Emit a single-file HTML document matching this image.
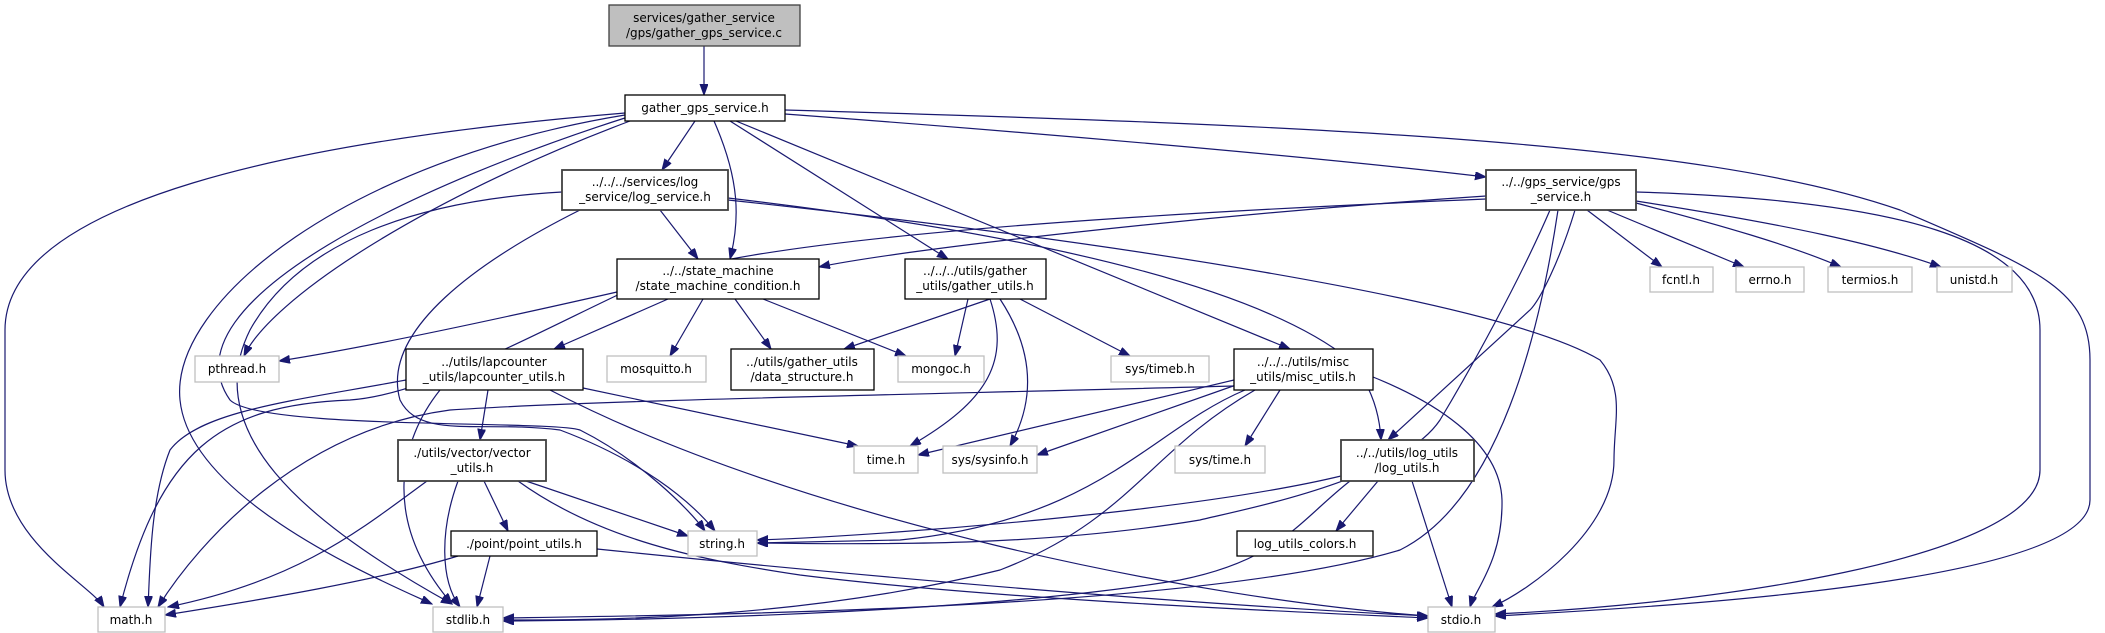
<!DOCTYPE html>
<html><head><meta charset="utf-8"><style>
html,body{margin:0;padding:0;background:#fff;}
svg{display:block;}
text{font-family:"DejaVu Sans","Liberation Sans",sans-serif;font-size:12px;fill:#000;text-anchor:middle;}
.e{fill:none;stroke:#191970;stroke-width:1.2;marker-end:url(#a);}
.b{fill:#fff;stroke:#000;stroke-width:1.3;}
.d{fill:#fff;stroke:#404040;stroke-width:1.8;}
.s{fill:#fff;stroke:#bfbfbf;stroke-width:1.3;}
</style></head><body>
<svg width="2105" height="633" viewBox="0 0 2105 633" xmlns="http://www.w3.org/2000/svg">
<defs><marker id="a" markerUnits="userSpaceOnUse" markerWidth="12" markerHeight="10" refX="11" refY="4" orient="auto"><path d="M0,0 L11,4 L0,8 z" fill="#191970" stroke="#191970"/></marker></defs>

<!-- edges -->
<path class="e" d="M704,46 L704,95"/>
<path class="e" d="M625,113 C300,140 5,200 5,330 L5,470 C5,540 90,585 104,607"/>
<path class="e" d="M625,115 C350,160 170,300 180,400 C190,500 380,580 432,604"/>
<path class="e" d="M628,117 C430,180 160,300 230,400 C260,430 550,420 580,430 C640,460 690,510 705,531"/>
<path class="e" d="M630,121 C420,200 270,300 244,356"/>
<path class="e" d="M695,121 L662,170"/>
<path class="e" d="M714,121 C740,180 740,220 730,259"/>
<path class="e" d="M730,121 L948,259"/>
<path class="e" d="M736,121 L1290,349"/>
<path class="e" d="M785,114 C1000,130 1300,155 1486,177"/>
<path class="e" d="M785,110 C1300,125 1700,140 1900,210 C2040,270 2090,290 2090,360 L2090,500 C2090,580 1700,605 1495,616"/>

<path class="e" d="M660,210 L698,259"/>
<path class="e" d="M562,192 C420,200 300,240 250,330 C200,430 300,520 452,604"/>
<path class="e" d="M580,210 C480,260 380,330 400,400 C420,440 480,420 560,430 C640,460 690,500 715,531"/>
<path class="e" d="M728,198 C1000,230 1250,280 1350,360 C1375,390 1380,420 1381,440"/>
<path class="e" d="M728,200 C1100,240 1500,300 1600,360 C1625,390 1614,420 1614,460 C1614,530 1530,590 1492,607"/>

<path class="e" d="M1486,196 C1200,215 900,250 819,267"/>
<path class="e" d="M1486,199 C1100,215 750,240 650,280 C560,320 430,395 350,400 C220,405 160,450 120,607"/>
<path class="e" d="M1587,210 L1662,267"/>
<path class="e" d="M1607,210 L1744,267"/>
<path class="e" d="M1636,203 C1720,225 1790,245 1841,267"/>
<path class="e" d="M1636,201 C1790,225 1880,245 1941,267"/>
<path class="e" d="M1575,210 C1560,260 1540,300 1530,310 L1388,440"/>
<path class="e" d="M1550,210 C1520,280 1470,370 1440,420 C1400,480 1240,510 1200,520 C1050,545 900,545 757,543"/>
<path class="e" d="M1558,210 C1540,330 1500,500 1400,550 C1200,610 700,615 503,618"/>
<path class="e" d="M1636,192 C1900,200 2040,240 2040,330 L2040,470 C2040,560 1700,605 1495,614"/>

<path class="e" d="M617,292 C450,330 350,350 279,361"/>
<path class="e" d="M668,299 L554,349"/>
<path class="e" d="M703,299 L670,356"/>
<path class="e" d="M735,299 L771,349"/>
<path class="e" d="M763,299 L906,356"/>

<path class="e" d="M990,299 L844,349"/>
<path class="e" d="M968,299 L955,356"/>
<path class="e" d="M990,299 C1010,360 990,400 910,446"/>
<path class="e" d="M1000,299 C1040,360 1030,410 1010,446"/>
<path class="e" d="M1020,299 L1130,356"/>

<path class="e" d="M406,380 C300,400 200,410 170,450 C150,500 150,570 148,607"/>
<path class="e" d="M440,390 C400,440 380,520 452,604"/>
<path class="e" d="M488,390 L480,440"/>
<path class="e" d="M583,388 L858,446"/>
<path class="e" d="M550,390 C800,520 1200,600 1428,616"/>

<path class="e" d="M427,481 C360,530 300,580 168,607"/>
<path class="e" d="M458,481 C440,530 440,580 460,607"/>
<path class="e" d="M484,481 L508,531"/>
<path class="e" d="M526,481 L688,536"/>
<path class="e" d="M518,481 C600,540 700,560 800,575 C1000,600 1300,612 1428,618"/>

<path class="e" d="M458,556 C380,580 260,600 165,615"/>
<path class="e" d="M490,556 L477,607"/>
<path class="e" d="M597,549 C900,580 1200,605 1428,616"/>

<path class="e" d="M1234,386 C900,395 600,400 450,410 C300,430 200,540 158,607"/>
<path class="e" d="M1234,380 L918,455"/>
<path class="e" d="M1236,385 L1037,455"/>
<path class="e" d="M1280,390 L1245,446"/>
<path class="e" d="M1245,390 C1150,430 1100,520 900,540 L757,543"/>
<path class="e" d="M1255,390 C1150,450 1130,520 1000,570 C800,620 600,620 503,620"/>
<path class="e" d="M1373,377 C1430,400 1500,440 1502,500 C1503,560 1475,590 1470,607"/>

<path class="e" d="M1341,476 C1200,510 900,535 757,540"/>
<path class="e" d="M1350,481 C1300,520 1280,560 1180,580 C1000,610 700,620 503,621"/>
<path class="e" d="M1378,481 L1336,531"/>
<path class="e" d="M1412,481 L1452,607"/>

<!-- nodes -->
<rect x="609" y="5" width="191" height="41" fill="#bfbfbf" stroke="#404040" stroke-width="1.3"/>
<text x="704" y="22">services/gather_service</text><text x="704" y="37">/gps/gather_gps_service.c</text>

<rect class="b" x="625" y="95" width="160" height="26"/><text x="705" y="112">gather_gps_service.h</text>
<rect class="d" x="562" y="170" width="166" height="40"/><text x="645" y="186">../../../services/log</text><text x="645" y="201">_service/log_service.h</text>
<rect class="b" x="617" y="259" width="202" height="40"/><text x="718" y="275">../../state_machine</text><text x="718" y="290">/state_machine_condition.h</text>
<rect class="b" x="905" y="259" width="141" height="40"/><text x="975" y="275">../../../utils/gather</text><text x="975" y="290">_utils/gather_utils.h</text>
<rect class="d" x="1486" y="170" width="150" height="40"/><text x="1561" y="186">../../gps_service/gps</text><text x="1561" y="201">_service.h</text>

<rect class="s" x="1650" y="267" width="63" height="25"/><text x="1681" y="284">fcntl.h</text>
<rect class="s" x="1736" y="267" width="68" height="25"/><text x="1770" y="284">errno.h</text>
<rect class="s" x="1828" y="267" width="84" height="25"/><text x="1870" y="284">termios.h</text>
<rect class="s" x="1937" y="267" width="75" height="25"/><text x="1974" y="284">unistd.h</text>

<rect class="s" x="195" y="356" width="84" height="26"/><text x="237" y="373">pthread.h</text>
<rect class="b" x="406" y="349" width="177" height="41"/><text x="494" y="366">../utils/lapcounter</text><text x="494" y="381">_utils/lapcounter_utils.h</text>
<rect class="s" x="607" y="356" width="99" height="26"/><text x="656" y="373">mosquitto.h</text>
<rect class="b" x="731" y="349" width="143" height="41"/><text x="802" y="366">../utils/gather_utils</text><text x="802" y="381">/data_structure.h</text>
<rect class="s" x="898" y="356" width="86" height="26"/><text x="941" y="373">mongoc.h</text>
<rect class="s" x="1111" y="356" width="98" height="26"/><text x="1160" y="373">sys/timeb.h</text>
<rect class="b" x="1234" y="349" width="139" height="41"/><text x="1303" y="366">../../../utils/misc</text><text x="1303" y="381">_utils/misc_utils.h</text>

<rect class="s" x="854" y="446" width="64" height="27"/><text x="886" y="464">time.h</text>
<rect class="s" x="943" y="446" width="94" height="27"/><text x="990" y="464">sys/sysinfo.h</text>
<rect class="s" x="1175" y="446" width="90" height="27"/><text x="1220" y="464">sys/time.h</text>
<rect class="d" x="1341" y="440" width="133" height="41"/><text x="1407" y="457">../../utils/log_utils</text><text x="1407" y="472">/log_utils.h</text>
<rect class="d" x="398" y="440" width="148" height="41"/><text x="472" y="457">./utils/vector/vector</text><text x="472" y="472">_utils.h</text>

<rect class="b" x="451" y="531" width="146" height="25"/><text x="524" y="548">./point/point_utils.h</text>
<rect class="s" x="688" y="531" width="69" height="25"/><text x="722" y="548">string.h</text>
<rect class="b" x="1237" y="531" width="136" height="25"/><text x="1305" y="548">log_utils_colors.h</text>

<rect class="s" x="98" y="607" width="67" height="25"/><text x="131" y="624">math.h</text>
<rect class="s" x="433" y="607" width="70" height="25"/><text x="468" y="624">stdlib.h</text>
<rect class="s" x="1428" y="607" width="67" height="25"/><text x="1461" y="624">stdio.h</text>
</svg>
</body></html>
